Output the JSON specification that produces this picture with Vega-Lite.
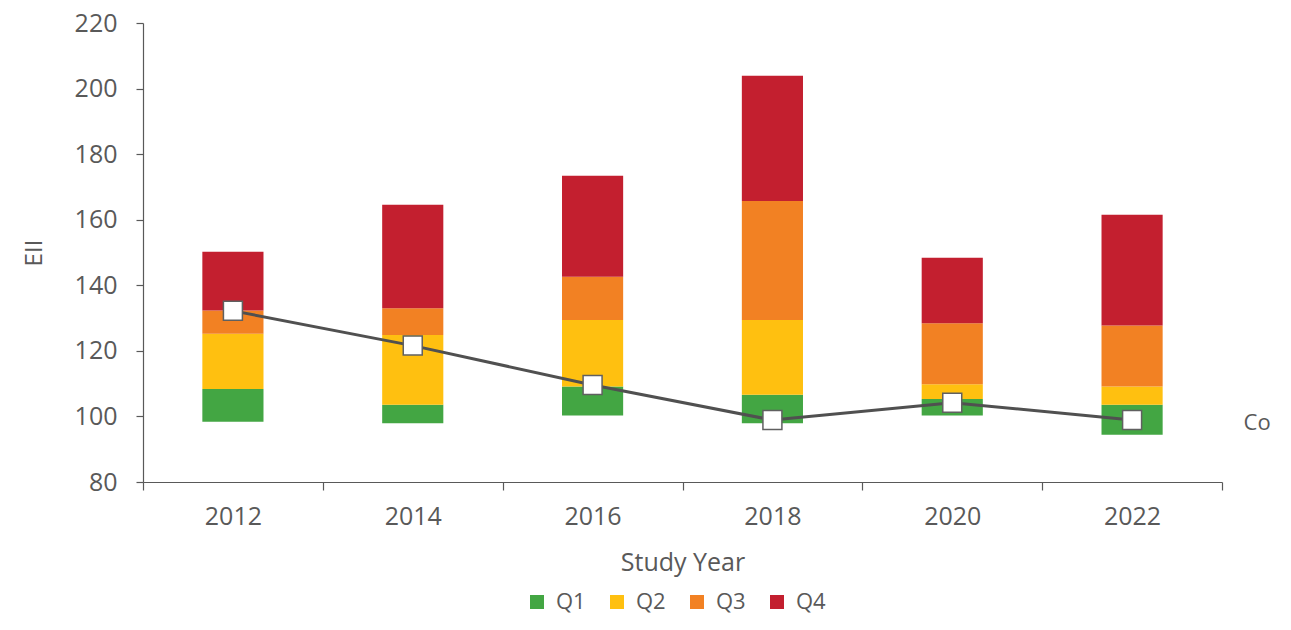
{
  "$schema": "https://vega.github.io/schema/vega-lite/v6.json",
  "autosize": "none",
  "width": 1079,
  "height": 459,
  "padding": {"left": 143, "top": 23, "right": 69, "bottom": 148},
  "background": "white",
  "config": {
    "view": {"stroke": null},
    "font": "Open Sans",
    "axis": {"labelColor": "#595959", "titleColor": "#595959", "domainColor": "#595959", "tickColor": "#595959", "labelFont": "Open Sans", "titleFont": "Open Sans", "titleFontWeight": "normal", "grid": false}
  },
  "datasets": {
    "bars": [
      {"year": "2012", "q": "Q1", "lo": 98.4, "hi": 108.4},
      {"year": "2012", "q": "Q2", "lo": 108.4, "hi": 125.2},
      {"year": "2012", "q": "Q3", "lo": 125.2, "hi": 132.3},
      {"year": "2012", "q": "Q4", "lo": 132.3, "hi": 150.2},
      {"year": "2014", "q": "Q1", "lo": 97.9, "hi": 103.6},
      {"year": "2014", "q": "Q2", "lo": 103.6, "hi": 124.8},
      {"year": "2014", "q": "Q3", "lo": 124.8, "hi": 133.0},
      {"year": "2014", "q": "Q4", "lo": 133.0, "hi": 164.6},
      {"year": "2016", "q": "Q1", "lo": 100.3, "hi": 109.1},
      {"year": "2016", "q": "Q2", "lo": 109.1, "hi": 129.4},
      {"year": "2016", "q": "Q3", "lo": 129.4, "hi": 142.6},
      {"year": "2016", "q": "Q4", "lo": 142.6, "hi": 173.4},
      {"year": "2018", "q": "Q1", "lo": 97.9, "hi": 106.6},
      {"year": "2018", "q": "Q2", "lo": 106.6, "hi": 129.4},
      {"year": "2018", "q": "Q3", "lo": 129.4, "hi": 165.7},
      {"year": "2018", "q": "Q4", "lo": 165.7, "hi": 203.9},
      {"year": "2020", "q": "Q1", "lo": 100.3, "hi": 105.3},
      {"year": "2020", "q": "Q2", "lo": 105.3, "hi": 109.8},
      {"year": "2020", "q": "Q3", "lo": 109.8, "hi": 128.4},
      {"year": "2020", "q": "Q4", "lo": 128.4, "hi": 148.4},
      {"year": "2022", "q": "Q1", "lo": 94.4, "hi": 103.6},
      {"year": "2022", "q": "Q2", "lo": 103.6, "hi": 109.1},
      {"year": "2022", "q": "Q3", "lo": 109.1, "hi": 127.7},
      {"year": "2022", "q": "Q4", "lo": 127.7, "hi": 161.5}
    ],
    "line": [
      {"year": "2012", "value": 132.2},
      {"year": "2014", "value": 121.6},
      {"year": "2016", "value": 109.6},
      {"year": "2018", "value": 98.9},
      {"year": "2020", "value": 104.2},
      {"year": "2022", "value": 98.9}
    ],
    "label": [
      {"year": "2022", "value": 98.9, "text": "Co"}
    ]
  },
  "encoding": {
    "x": {
      "field": "year", "type": "ordinal", "title": "Study Year",
      "scale": {"paddingInner": 0, "paddingOuter": 0, "domain": ["2012", "2014", "2016", "2018", "2020", "2022"]},
      "axis": {"labelAngle": 0, "labelFontSize": 25, "titleFontSize": 25, "tickBand": "extent", "tickSize": 8, "labelPadding": 14, "titlePadding": 21, "domainWidth": 1.2, "tickWidth": 1.2}
    }
  },
  "layer": [
    {
      "data": {"name": "bars"},
      "mark": {"type": "bar", "width": {"band": 0.34}},
      "encoding": {
        "y": {"field": "lo", "type": "quantitative", "title": "EII",
          "scale": {"domain": [80, 220], "zero": false, "nice": false},
          "axis": {"values": [80, 100, 120, 140, 160, 180, 200, 220], "labelFontSize": 25, "titleFontSize": 24, "tickSize": 7, "labelPadding": 19, "titlePadding": 28, "domainWidth": 1.2, "tickWidth": 1.2}},
        "y2": {"field": "hi"},
        "color": {"field": "q", "type": "nominal",
          "scale": {"domain": ["Q1", "Q2", "Q3", "Q4"], "range": ["#43A643", "#FFC010", "#F28123", "#C31F2F"]},
          "legend": {"title": null, "orient": "none", "direction": "horizontal", "legendX": 383, "legendY": 568, "symbolType": "square", "symbolSize": 196, "symbolStrokeWidth": 0, "labelFontSize": 22, "labelColor": "#595959", "labelFont": "Open Sans", "columnPadding": 20, "labelOffset": 8}}
      }
    },
    {
      "data": {"name": "line"},
      "mark": {"type": "line", "color": "#505050", "strokeWidth": 3},
      "encoding": {"y": {"field": "value", "type": "quantitative"}}
    },
    {
      "data": {"name": "line"},
      "mark": {"type": "point", "shape": "square", "size": 360, "filled": true, "fill": "white", "stroke": "#606060", "strokeWidth": 1.5, "opacity": 1},
      "encoding": {"y": {"field": "value", "type": "quantitative"}}
    },
    {
      "data": {"name": "label"},
      "mark": {"type": "text", "dx": 125, "dy": 3, "fontSize": 22, "color": "#595959", "align": "center", "baseline": "middle"},
      "encoding": {"y": {"field": "value", "type": "quantitative"}, "text": {"field": "text"}}
    }
  ]
}
